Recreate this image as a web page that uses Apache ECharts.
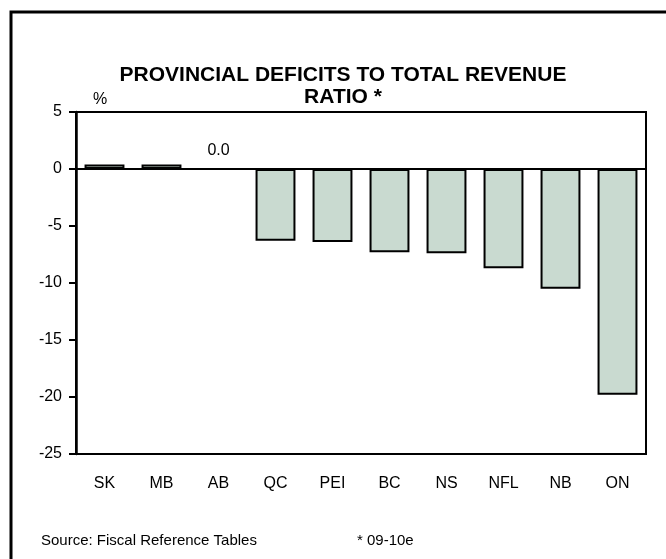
<!DOCTYPE html>
<html>
<head>
<meta charset="utf-8">
<script src="https://cdn.jsdelivr.net/npm/echarts@6/dist/echarts.min.js"></script>
<style>
  html, body { margin: 0; padding: 0; background: #ffffff; }
  #chart { width: 666px; height: 559px; }
</style>
</head>
<body>
<div id="chart"></div>
<script>
// Provinces, ordered from surplus to largest deficit
const provinces = ['SK', 'MB', 'AB', 'QC', 'PEI', 'BC', 'NS', 'NFL', 'NB', 'ON'];
// Deficit (-) / surplus (+) as % of total revenue, 2009-10 estimates
const ratioValues = [0.4, 0.4, 0.0, -6.3, -6.4, -7.3, -7.4, -8.7, -10.5, -19.8];
// Provinces whose value is printed above the bar
const labeledProvinces = ['AB'];
// Value axis range and step
const yMin = -25, yMax = 5, yStep = 5;

const FONT = '"Liberation Sans", Arial, Helvetica, sans-serif';

const barData = provinces.map((p, i) => {
  const item = { value: ratioValues[i] };
  if (labeledProvinces.includes(p)) {
    item.label = {
      show: true,
      position: 'top',
      distance: 9,
      formatter: (d) => Number(d.value).toFixed(1),
      color: '#000',
      fontSize: 16,
      fontFamily: FONT
    };
  }
  return item;
});

const chart = echarts.init(document.getElementById('chart'), null, { renderer: 'canvas' });

chart.setOption({
  backgroundColor: '#ffffff',
  animation: false,
  grid: {
    left: 76, top: 112, right: 20, bottom: 105,
    show: true,
    borderColor: '#000',
    borderWidth: 2,
    backgroundColor: 'transparent'
  },
  xAxis: {
    type: 'category',
    data: provinces,
    position: 'bottom',
    axisLine: { show: false, onZero: false },
    axisTick: { show: false },
    axisLabel: { color: '#000', fontSize: 16, fontFamily: FONT, margin: 22 },
    splitLine: { show: false }
  },
  yAxis: {
    type: 'value',
    min: yMin, max: yMax, interval: yStep,
    axisLine: { show: true, onZero: false, lineStyle: { color: '#000', width: 2.5 } },
    axisTick: { show: true, inside: false, length: 7, lineStyle: { color: '#000', width: 2 } },
    axisLabel: { color: '#000', fontSize: 16, fontFamily: FONT, margin: 14 },
    splitLine: { show: false }
  },
  series: [{
    type: 'bar',
    data: barData,
    barCategoryGap: '30%',
    itemStyle: { color: '#c9dad0', borderColor: '#000', borderWidth: 2 },
    markLine: {
      silent: true,
      symbol: 'none',
      label: { show: false },
      lineStyle: { color: '#000', width: 2, type: 'solid' },
      data: [{ yAxis: 0 }]
    }
  }],
  graphic: [
    {
      type: 'rect',
      shape: { x: 11, y: 12, width: 700, height: 600 },
      style: { fill: 'none', stroke: '#000', lineWidth: 3 },
      silent: true
    },
    {
      type: 'text',
      style: {
        x: 343, y: 75,
        text: 'PROVINCIAL DEFICITS TO TOTAL REVENUE',
        textAlign: 'center', textVerticalAlign: 'middle',
        font: 'bold 21px ' + FONT, fill: '#000'
      }
    },
    {
      type: 'text',
      style: {
        x: 343, y: 97,
        text: 'RATIO *',
        textAlign: 'center', textVerticalAlign: 'middle',
        font: 'bold 21px ' + FONT, fill: '#000'
      }
    },
    {
      type: 'text',
      style: {
        x: 100, y: 100, text: '%',
        textAlign: 'center', textVerticalAlign: 'middle',
        font: '16px ' + FONT, fill: '#000'
      }
    },
    {
      type: 'text',
      style: {
        x: 41, y: 541, text: 'Source: Fiscal Reference Tables',
        textAlign: 'left', textVerticalAlign: 'middle',
        font: '15px ' + FONT, fill: '#000'
      }
    },
    {
      type: 'text',
      style: {
        x: 357, y: 541, text: '* 09-10e',
        textAlign: 'left', textVerticalAlign: 'middle',
        font: '15px ' + FONT, fill: '#000'
      }
    }
  ]
});
</script>
</body>
</html>
